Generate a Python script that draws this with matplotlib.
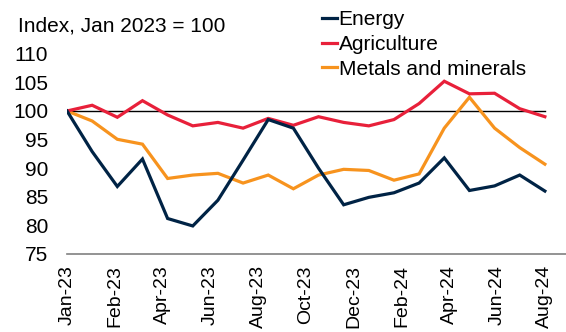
import numpy as np
import matplotlib.pyplot as plt

plt.rcParams['font.family'] = ['Liberation Sans', 'DejaVu Sans']

# Monthly commodity price indices, Jan-23 to Aug-24 (Jan 2023 = 100)
months = ['Jan-23', 'Feb-23', 'Mar-23', 'Apr-23', 'May-23', 'Jun-23', 'Jul-23',
          'Aug-23', 'Sep-23', 'Oct-23', 'Nov-23', 'Dec-23', 'Jan-24', 'Feb-24',
          'Mar-24', 'Apr-24', 'May-24', 'Jun-24', 'Jul-24', 'Aug-24']
energy = [100, 92.9, 86.8, 91.6, 81.2, 79.9, 84.4, 91.4, 98.5, 97.0,
          90.0, 83.6, 84.9, 85.7, 87.4, 91.8, 86.1, 86.9, 88.8, 86.0]
agriculture = [100, 101.0, 98.9, 101.8, 99.3, 97.4, 98.0, 97.0, 98.7, 97.5,
               99.0, 98.0, 97.4, 98.5, 101.3, 105.2, 103.0, 103.1, 100.4, 99.0]
metals = [100, 98.25, 95.05, 94.2, 88.2, 88.8, 89.1, 87.4, 88.8, 86.4,
          88.8, 89.8, 89.6, 87.9, 89.0, 97.0, 102.4, 97.0, 93.6, 90.7]

tick_labels = ['Jan-23', 'Feb-23', 'Apr-23', 'Jun-23', 'Aug-23', 'Oct-23',
               'Dec-23', 'Feb-24', 'Apr-24', 'Jun-24', 'Aug-24']

x = np.arange(len(months))

fig = plt.figure(figsize=(5.66, 3.32), dpi=100)
ax = fig.add_axes([0.1184, 0.235, 0.8816, 0.603])

ax.plot(x, energy, color='#002345', lw=2.3, label='Energy', zorder=4,
        solid_joinstyle='miter')
ax.plot(x, agriculture, color='#E8203A', lw=2.3, label='Agriculture', zorder=3,
        solid_joinstyle='miter')
ax.plot(x, metals, color='#F7931E', lw=2.3, label='Metals and minerals', zorder=2,
        solid_joinstyle='miter')

# reference line at 100
ax.plot([x[0], x[-1]], [100, 100], color='black', lw=1.0, zorder=1)

ax.set_xlim(0, 19.84)
ax.set_ylim(75, 110)
ax.set_yticks(np.arange(75, 111, 5))
ax.set_xticks(np.linspace(0, len(months) - 1, len(tick_labels)))
ax.set_xticklabels(tick_labels, rotation=90)
ax.tick_params(axis='both', length=0, colors='black')
ax.tick_params(axis='y', pad=13.5, labelsize=15)
ax.tick_params(axis='x', pad=8, labelsize=14)

for side in ['top', 'right', 'left']:
    ax.spines[side].set_visible(False)
ax.spines['bottom'].set_color('#808080')
ax.spines['bottom'].set_linewidth(1.2)

fig.text(0.032, 0.922, 'Index, Jan 2023 = 100', fontsize=15, ha='left', va='center')

ax.legend(loc='upper left', bbox_to_anchor=(322 / 566, 1 - 10 / 332),
          bbox_transform=fig.transFigure, frameon=False,
          fontsize=15, handlelength=0.7, handletextpad=0.1, labelspacing=0.28,
          borderaxespad=0, borderpad=0)

fig.savefig('out.png', dpi=100)
